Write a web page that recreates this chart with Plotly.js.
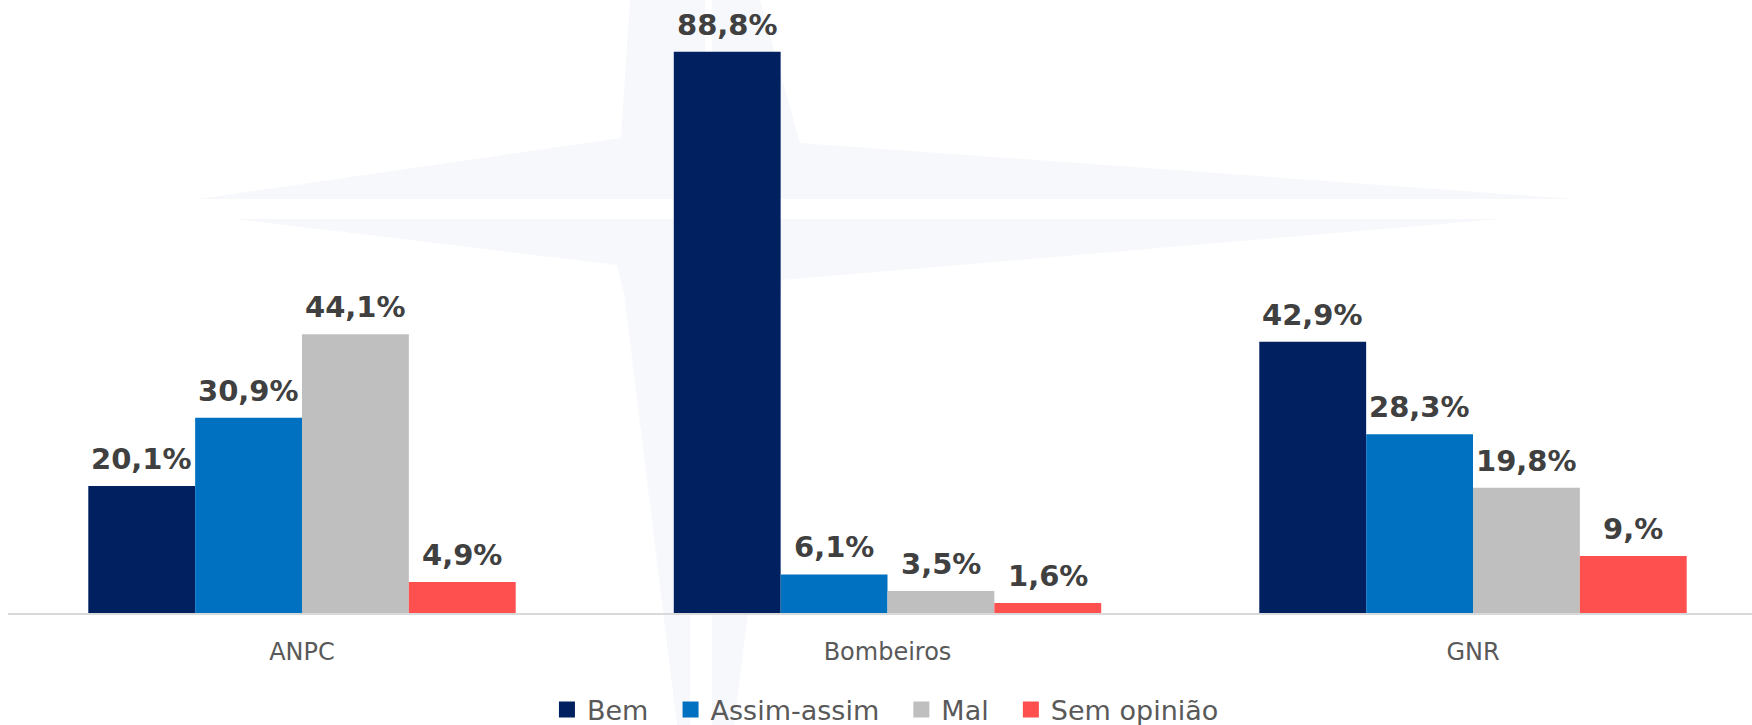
<!DOCTYPE html>
<html>
<head>
<meta charset="utf-8">
<script src="https://cdn.plot.ly/plotly-3.0.1.min.js"></script>
<style>
  html, body { margin: 0; padding: 0; background: #ffffff; }
  #chart { width: 1752px; height: 725px; }
</style>
</head>
<body>
<div id="chart"></div>
<script>
// ---- Data ----
const categories = ['ANPC', 'Bombeiros', 'GNR'];
const bem = [20.1, 88.8, 42.9];
const assimAssim = [30.9, 6.1, 28.3];
const mal = [44.1, 3.5, 19.8];
const semOpiniao = [4.9, 1.6, 9.0];
const seriesNames = ['Bem', 'Assim-assim', 'Mal', 'Sem opinião'];
const seriesValues = [bem, assimAssim, mal, semOpiniao];
const seriesColors = ['#002060', '#0070C0', '#BFBFBF', '#FF5050'];

// ---- Layout constants ----
const W = 1752, H = 725;
const M = { l: 8, r: 0, t: 0, b: 112, autoexpand: false };
const PW = W - M.l - M.r, PH = H - M.t - M.b;
const BARGAP = 0.27;
const barW = (1 - BARGAP) / seriesNames.length;

// Excel-like "0,#%" format: 9.0 -> "9,%"
function fmt(v) {
  let s = v.toFixed(1).replace('.', ',');
  if (s.endsWith(',0')) s = s.slice(0, -1);
  return s + '%';
}

const traces = [];
seriesNames.forEach((name, i) => {
  traces.push({
    type: 'bar',
    x: categories,
    y: seriesValues[i],
    name: name,
    marker: { color: seriesColors[i], line: { width: 0 } },
    showlegend: false,
    hoverinfo: 'x+y+name'
  });
});
// legend entries (square markers)
seriesNames.forEach((name, i) => {
  traces.push({
    type: 'scatter',
    mode: 'markers',
    x: [null], y: [null],
    name: name + '\u00a0\u00a0',
    marker: { symbol: 'square', size: 18, color: seriesColors[i] },
    showlegend: true,
    hoverinfo: 'skip'
  });
});

// value labels
const annotations = [];
seriesNames.forEach((name, i) => {
  seriesValues[i].forEach((v, c) => {
    annotations.push({
      xref: 'x', yref: 'y',
      x: c + (i - (seriesNames.length - 1) / 2) * barW,
      y: v,
      text: fmt(v),
      showarrow: false,
      xanchor: 'center', yanchor: 'bottom',
      yshift: 8,
      font: { family: 'DejaVu Sans', size: 29, color: '#404040', weight: 'bold' }
    });
  });
});

// faint background star watermark (decoration), pixel -> paper
function px(x, y) { return ((x - M.l) / PW).toFixed(4) + ',' + ((M.t + PH - y) / PH).toFixed(4); }
function poly(pts) { return 'M' + pts.map(p => px(p[0], p[1])).join(' L') + ' Z'; }
const starFill = '#f6f8fb';
const starPolys = [
  [[198,199],[621,138],[630,0],[705,0],[705,199]],
  [[712,0],[760,0],[800,143],[1575,199],[712,199]],
  [[236,219],[674,219],[690,300],[690,725],[677,725],[624,293],[617,265]],
  [[712,219],[1500,219],[782,280],[748,613],[734,725],[712,725]]
];
const shapes = starPolys.map(p => ({
  type: 'path', xref: 'paper', yref: 'paper', layer: 'below',
  path: poly(p), fillcolor: starFill, line: { width: 0 }
}));

// x range: category centres at ~302, 888, 1473 px
const unit = 585.5;
const xRange = [0 - (302 - M.l) / unit, 2 + (W - M.r - 1473) / unit];

const layout = {
  width: W, height: H,
  margin: M,
  paper_bgcolor: '#ffffff',
  plot_bgcolor: 'rgba(0,0,0,0)',
  barmode: 'group',
  bargap: BARGAP,
  bargroupgap: 0,
  font: { family: 'DejaVu Sans', color: '#595959' },
  xaxis: {
    type: 'category',
    range: xRange,
    showline: true, linecolor: '#d9d9d9', linewidth: 2,
    showgrid: false, zeroline: false,
    ticks: '',
    ticklabelstandoff: 16,
    tickfont: { family: 'DejaVu Sans', size: 24, color: '#595959' },
    fixedrange: true
  },
  yaxis: {
    range: [0, PH / 6.32],
    visible: false,
    showgrid: false, zeroline: false,
    fixedrange: true
  },
  showlegend: true,
  legend: {
    orientation: 'h',
    x: 0.508, xanchor: 'center',
    y: -0.158, yanchor: 'middle',
    font: { family: 'DejaVu Sans', size: 27, color: '#595959' },
    bgcolor: 'rgba(0,0,0,0)'
  },
  annotations: annotations,
  shapes: shapes
};

Plotly.newPlot('chart', traces, layout, { displayModeBar: false, staticPlot: true });
</script>
</body>
</html>
